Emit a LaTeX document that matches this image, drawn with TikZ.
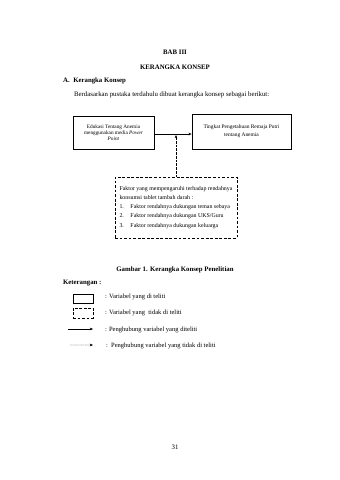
\documentclass[tikz,border=0pt]{standalone}
\usepackage{fontspec}
\setmainfont{Liberation Serif}
\usepackage{tikz}
\usetikzlibrary{positioning,arrows.meta}

\begin{document}
\begin{tikzpicture}[x=0.62mm, y=-0.62mm,
  txt/.style={inner sep=0pt, font=\fontsize{12}{14}\selectfont},
  blk/.style={draw, line width=0.9pt, align=center, font=\fontsize{9.3}{10.5}\selectfont},
  dbox/.style={blk, dash pattern=on 5pt off 3pt},
  dot/.style={dash pattern=on 1.1pt off 1.3pt},
  >={Stealth[length=2mm, width=1.6mm]}]
\useasboundingbox (0,0) rectangle (339,480);
% judul
\node[txt, font=\fontsize{12}{14}\bfseries] (bab) at (175,52) {BAB III};
\node[txt, font=\fontsize{12}{14}\bfseries] (judul) at (175,67) {KERANGKA KONSEP};
\node[txt, anchor=west, font=\fontsize{12}{14}\bfseries] (sub) at (63,81) {A.\hspace{2.2mm}Kerangka Konsep};
\node[txt, anchor=west] (intro) at (74,95) {Berdasarkan pustaka terdahulu dibuat kerangka konsep sebagai berikut:};
% kerangka
\node[blk, minimum width=50.2mm, minimum height=20.5mm] (edukasi) at (113.5,132.5)
  {Edukasi Tentang Anemia\\menggunakan media \textit{Power}\\\textit{Point}};
\node[blk, minimum width=61.4mm, minimum height=21.7mm, font=\fontsize{9.6}{14}\selectfont] (pengetahuan) at (241.5,131.5)
  {Tingkat Pengetahuan Remaja Putri\\tentang Anemia};
\node[dbox, minimum width=75.6mm, minimum height=37.8mm, align=left,
  font=\fontsize{10.4}{16}\selectfont] (faktor) at (176,207.5)
  {Faktor yang mempengaruhi terhadap rendahnya\\
   konsumsi tablet tambah darah :\\
   \makebox[6.8mm][l]{1.}Faktor rendahnya dukungan teman sebaya\\
   \makebox[6.8mm][l]{2.}Faktor rendahnya dukungan UKS/Guru\\
   \makebox[6.8mm][l]{3.}Faktor rendahnya dukungan keluarga};
\draw[->, line width=0.9pt] (edukasi.east |- 0,134) -- (pengetahuan.west |- 0,134);
\coordinate (tip) at ([yshift=-0.6mm]faktor.north |- 0,134);
\draw[->, line width=0.9pt, dot] (faktor.north) -- (tip);
% keterangan
\node[txt, font=\fontsize{12}{14}\bfseries] (gambar) at (175,270) {Gambar 1. Kerangka Konsep Penelitian};
\node[txt, anchor=west, font=\fontsize{12}{14}\bfseries] (ket) at (63,283) {Keterangan :};
\node[blk, minimum width=12.4mm, minimum height=5.3mm, inner sep=0pt] (lgsolid) at (83,299) {};
\node[dbox, minimum width=12.4mm, minimum height=6.2mm, inner sep=0pt] (lgdash) at (83,313) {};
\coordinate (a1) at (68,329);
\coordinate (a2) at (93,329);
\coordinate (b1) at (70,345);
\coordinate (b2) at (93,345);
\draw[->, line width=0.6pt] (a1) -- (a2);
\draw[-{Stealth[length=2mm, width=1.6mm]}, line width=0.7pt, line cap=round, dash pattern=on 0pt off 1.5pt] (b1) -- (b2);
\node[txt, anchor=west, font=\fontsize{11.5}{13}\selectfont] (lg1) at (105,297) {: Variabel yang di teliti};
\node[txt, anchor=west, font=\fontsize{11.5}{13}\selectfont] (lg2) at (105,313) {: Variabel yang\ \ tidak di teliti};
\node[txt, anchor=west, font=\fontsize{11.5}{13}\selectfont] (lg3) at (105,330) {: Penghubung variabel yang diteliti};
\node[txt, anchor=west, font=\fontsize{11.5}{13}\selectfont] (lg4) at (106,346) {:\ \ Penghubung variabel yang tidak di teliti};
\node[txt] (hal) at (175,447) {31};
\end{tikzpicture}
\end{document}
